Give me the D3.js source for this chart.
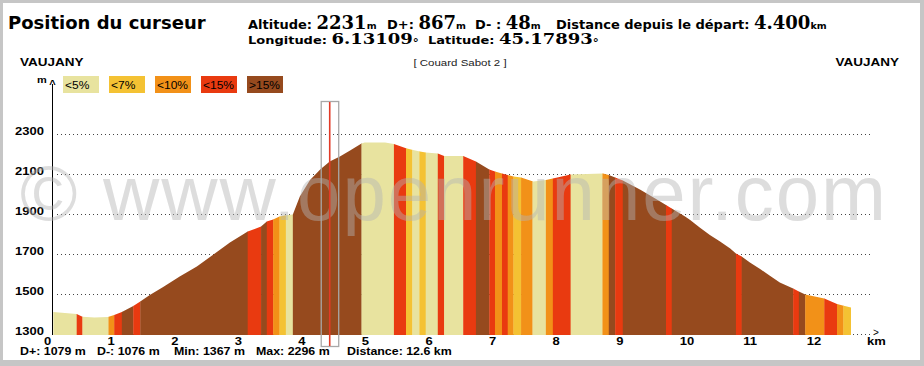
<!DOCTYPE html>
<html>
<head>
<meta charset="utf-8">
<script src="https://cdn.jsdelivr.net/npm/d3@7/dist/d3.min.js"></script>
<style>
  html, body { margin: 0; padding: 0; background: #fff; }
  svg { display: block; }
</style>
</head>
<body>
<svg id="chart" width="924" height="366"></svg>
<script>
// profile (km, m)
const distKm = [0.05, 0.42, 0.51, 0.70, 0.91, 1.01, 1.13, 1.31, 1.42, 1.57, 1.78, 2.04, 2.31, 2.56, 2.83,
  3.11, 3.32, 3.41, 3.51, 3.61, 3.71, 3.82, 3.93, 4.09, 4.25, 4.40, 4.56, 4.72, 4.90, 4.95, 5.27,
  5.41, 5.60, 5.71, 5.82, 5.91, 6.10, 6.20, 6.50, 6.70, 6.91, 7.00, 7.11, 7.20, 7.29, 7.41, 7.60,
  7.80, 7.91, 8.19, 8.70, 8.79, 8.89, 9.01, 9.28, 9.52, 9.69, 9.78, 9.99, 10.07, 10.22, 10.38,
  10.54, 10.70, 10.79, 10.88, 11.01, 11.17, 11.33, 11.48, 11.69, 11.78, 11.88, 12.18, 12.38, 12.47, 12.6];
const altM = [1410, 1400, 1386, 1383, 1385, 1395, 1410, 1440, 1462, 1495, 1535, 1587, 1637, 1695, 1757,
  1812, 1837, 1862, 1873, 1887, 1894, 1898, 1987, 2070, 2123, 2162, 2187, 2217, 2253, 2258, 2258,
  2250, 2229, 2220, 2212, 2208, 2203, 2190, 2190, 2162, 2123, 2112, 2103, 2095, 2087, 2083, 2062,
  2070, 2078, 2098, 2103, 2095, 2082, 2067, 2023, 1978, 1945, 1928, 1887, 1870, 1833, 1795,
  1762, 1728, 1703, 1687, 1658, 1625, 1590, 1557, 1528, 1512, 1498, 1478, 1450, 1442, 1433];

// slope bands: edges in km, class index per band (0 <5%, 1 <7%, 2 <10%, 3 <15%, 4 >15%)
const bandEdges = [0.05, 0.42, 0.51, 0.92, 1.01, 1.13, 1.31, 1.42, 3.11, 3.32, 3.41, 3.51, 3.61, 3.71,
  3.82, 4.90, 5.41, 5.60, 5.70, 5.81, 5.91, 6.10, 6.20, 6.50, 6.70, 6.91, 7.00, 7.11, 7.20, 7.29,
  7.41, 7.59, 7.80, 7.91, 8.19, 8.69, 8.79, 8.89, 9.01, 9.69, 9.78, 10.79, 10.88, 11.69, 11.78,
  11.88, 12.18, 12.38, 12.48, 12.6];
const bandClass = [0, 3, 0, 2, 3, 4, 3, 4, 3, 4, 3, 2, 1, 0,
  4, 0, 3, 1, 0, 1, 0, 3, 0, 3, 4, 3, 2, 3, 2, 1,
  2, 0, 2, 3, 0, 2, 4, 3, 4, 3, 4, 3, 4, 3,
  4, 2, 3, 2, 1];

const classLabels = ["<5%", "<7%", "<10%", "<15%", ">15%"];
const classColors = ["#e8e39f", "#f4c233", "#f29118", "#e93a10", "#964a1e"];

const yTicks = [1300, 1500, 1700, 1900, 2100, 2300];
const xTicks = [0, 1, 2, 3, 4, 5, 6, 7, 8, 9, 10, 11, 12];

const cursorKm = 4.4;
const headRow1 = [["Altitude:", "2231", "m"], ["D+:", "867", "m"], ["D- :", "48", "m"], ["Distance depuis le départ:", "4.400", "km"]];
const headRow2 = [["Longitude:", "6.13109", "°"], ["Latitude:", "45.17893", "°"]];
const footer = ["D+: 1079 m", "D-: 1076 m", "Min: 1367 m", "Max: 2296 m", "Distance: 12.6 km"];

const svg = d3.select("#chart");
const W = 924, H = 366;

// frame
svg.append("rect").attr("width", W).attr("height", H).attr("fill", "#c6c6c6");
svg.append("rect").attr("x", 3).attr("y", 3).attr("width", 917).attr("height", 357).attr("fill", "#fff");

const x = d3.scaleLinear().domain([0, 12.6]).range([50, 851]);
const y = d3.scaleLinear().domain([1300, 2300]).range([334, 134]);

const sans = "'Liberation Sans', Arial, sans-serif";
const verd = "'DejaVu Sans', Verdana, sans-serif";
const serif = "'DejaVu Serif', Georgia, serif";

// text helper with a slight vertical squash like the original bitmap
function label(g, tx, ty, str, size, opts = {}) {
  const t = g.append("text")
    .attr("transform", `translate(${tx},${ty}) scale(1,${opts.sy || 1})`)
    .attr("font-family", opts.family || sans)
    .attr("font-size", size)
    .attr("font-weight", opts.weight || "bold")
    .attr("text-anchor", opts.anchor || "start")
    .attr("fill", opts.fill || "#000")
    .text(str);
  return t;
}

// header
label(svg, 8, 29, "Position du curseur", 18, { family: verd });

function headRow(items, starts, base, valSize, sy) {
  items.forEach((it, i) => {
    const t = svg.append("text")
      .attr("transform", `translate(${starts[i]},${base}) scale(1,${sy})`)
      .attr("fill", "#000");
    t.append("tspan").attr("font-family", verd).attr("font-weight", "bold").attr("font-size", 13).text(it[0] + " ");
    t.append("tspan").attr("font-family", serif).attr("font-weight", "bold").attr("font-size", valSize).text(it[1]);
    const u = t.append("tspan").attr("font-family", verd).attr("font-weight", "bold").attr("font-size", 9.5).text(it[2]);
    if (it[2] === "°") u.attr("font-size", 12).attr("dy", 3);
  });
}
headRow(headRow1, [248, 387, 475, 556], 29, 18, 1);
headRow(headRow2, [248, 428], 43.5, 18, 0.85);

label(svg, 20, 66, "VAUJANY", 13.5, { sy: 0.8 });
label(svg, 899, 66, "VAUJANY", 13.5, { sy: 0.8, anchor: "end" });
label(svg, 460, 66, "[ Couard Sabot 2 ]", 11.5, { weight: "normal", anchor: "middle", sy: 0.85, fill: "#222" });

// legend
const leg = svg.append("g");
classLabels.forEach((l, i) => {
  leg.append("rect").attr("x", 63 + i * 46).attr("y", 76).attr("width", 36).attr("height", 17).attr("fill", classColors[i]);
  label(leg, 65 + i * 46, 89, l, 12, { weight: "normal", sy: 0.9 });
});

// grid
const grid = svg.append("g");
yTicks.forEach(v => {
  grid.append("line").attr("x1", 57).attr("x2", 870).attr("y1", y(v) + 0.5).attr("y2", y(v) + 0.5)
    .attr("stroke", "#444").attr("stroke-width", 1).attr("stroke-dasharray", "1,3");
});

// profile area coloured by slope bands
const pts = distKm.map((d, i) => [d, altM[i]]);
const area = d3.area().x(d => x(d[0])).y0(y(1300) + 1).y1(d => y(d[1]));
svg.append("clipPath").attr("id", "prof").append("path").attr("d", area(pts));

svg.append("g").attr("clip-path", "url(#prof)")
  .selectAll("rect").data(bandClass).join("rect")
  .attr("x", (c, i) => x(bandEdges[i]))
  .attr("width", (c, i) => x(bandEdges[i + 1]) - x(bandEdges[i]) + 0.3)
  .attr("y", y(2300))
  .attr("height", y(1300) + 2 - y(2300))
  .attr("fill", c => classColors[c]);

// axes
svg.append("line").attr("x1", 52.5).attr("x2", 52.5).attr("y1", 84).attr("y2", 335).attr("stroke", "#000");
label(svg, 37, 83, "m", 11, { sy: 0.85 });
label(svg, 52.5, 88, "^", 11, { anchor: "middle" });

yTicks.forEach(v => label(svg, 44, y(v) + 0.5, String(v), 13, { anchor: "end", sy: 0.85 }));
xTicks.forEach(k => label(svg, x(k) - 6, 345, String(k), 13, { sy: 0.85 }));
label(svg, 867, 345, "km", 13, { sy: 0.85 });
label(svg, 873, 336, ">", 10, { weight: "normal" });

// footer
[20, 97, 174, 256, 347].forEach((px, i) => label(svg, px, 355, footer[i], 12.4, { sy: 0.82 }));

// watermark
svg.append("text")
  .attr("x", 20).attr("y", 220)
  .attr("font-family", sans).attr("font-size", 78)
  .attr("textLength", 866).attr("lengthAdjust", "spacing")
  .attr("fill", "#b4b4b4").attr("fill-opacity", 0.45)
  .text("© www.openrunner.com");

// cursor
const cx = x(cursorKm);
svg.append("rect").attr("x", cx - 8.5).attr("y", 101.5).attr("width", 17.5).attr("height", 245)
  .attr("fill", "none").attr("stroke", "#a8a8a8").attr("stroke-width", 1.3);
svg.append("line").attr("x1", cx).attr("x2", cx).attr("y1", 102).attr("y2", 346)
  .attr("stroke", "#e23a26").attr("stroke-width", 1.6);
</script>
</body>
</html>
